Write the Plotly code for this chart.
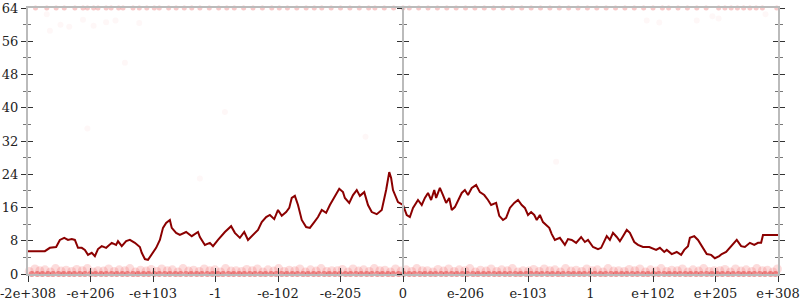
import plotly.graph_objects as go

# x positions are in tick-index units (0 .. 12), one unit per labelled tick
tick_labels = ["-2e+308", "-e+206", "-e+103", "-1", "-e-102", "-e-205", "0",
               "e-206", "e-103", "1", "e+102", "e+205", "e+308"]
tick_pos = list(range(13))

line_x = [0.00, 0.27, 0.35, 0.45, 0.51, 0.58, 0.64, 0.70, 0.75, 0.80, 0.86, 0.91, 0.96, 1.02, 1.07,
          1.12, 1.18, 1.25, 1.34, 1.41, 1.44, 1.50, 1.57, 1.63, 1.71, 1.79, 1.82, 1.87, 1.92, 1.98,
          2.05, 2.11, 2.16, 2.21, 2.27, 2.30, 2.37, 2.43, 2.53, 2.62, 2.72, 2.75, 2.83, 2.91, 2.96,
          3.04, 3.15, 3.25, 3.31, 3.39, 3.46, 3.52, 3.58, 3.68, 3.74, 3.81, 3.87, 3.94, 4.00, 4.06,
          4.13, 4.18, 4.22, 4.27, 4.32, 4.38, 4.45, 4.51, 4.58, 4.64, 4.70, 4.77, 4.83, 4.91, 4.98,
          5.04, 5.07, 5.14, 5.20, 5.26, 5.31, 5.38, 5.44, 5.50, 5.58, 5.66, 5.70, 5.73, 5.78, 5.81,
          5.84, 5.92, 6.00, 6.06, 6.11, 6.16, 6.24, 6.30, 6.35, 6.40, 6.45, 6.50, 6.53, 6.59, 6.64,
          6.69, 6.74, 6.78, 6.83, 6.88, 6.94, 6.99, 7.04, 7.10, 7.17, 7.23, 7.30, 7.36, 7.41, 7.49,
          7.54, 7.60, 7.65, 7.71, 7.78, 7.84, 7.90, 7.95, 8.00, 8.05, 8.10, 8.14, 8.19, 8.24, 8.29,
          8.34, 8.38, 8.43, 8.51, 8.59, 8.64, 8.70, 8.77, 8.85, 8.91, 8.96, 9.04, 9.12, 9.17, 9.26,
          9.31, 9.36, 9.42, 9.47, 9.52, 9.58, 9.63, 9.70, 9.76, 9.84, 9.94, 9.98, 10.05, 10.11, 10.18,
          10.22, 10.30, 10.38, 10.45, 10.50, 10.56, 10.59, 10.66, 10.72, 10.78, 10.86, 10.93, 10.99,
          11.06, 11.10, 11.17, 11.23, 11.30, 11.34, 11.41, 11.47, 11.55, 11.62, 11.68, 11.73, 11.76,
          12.00]
line_y = [5.5, 5.5, 6.3, 6.5, 8.2, 8.7, 8.2, 8.4, 8.2, 6.3, 6.3, 5.8, 4.6, 5.1, 4.3,
          6.0, 6.7, 6.3, 7.5, 7.0, 7.9, 6.7, 7.9, 8.2, 7.5, 6.5, 5.1, 3.6, 3.4, 4.6,
          6.3, 8.2, 11.1, 12.3, 13.0, 11.1, 9.9, 9.4, 10.1, 9.1, 10.1, 8.9, 7.0, 7.5, 6.7,
          8.2, 10.1, 11.5, 9.9, 8.7, 10.1, 8.2, 9.1, 10.6, 12.5, 13.7, 14.2, 13.2, 15.4, 14.0,
          14.9, 15.9, 18.3, 18.8, 16.6, 13.0, 11.3, 11.1, 12.5, 13.7, 15.4, 14.7, 16.6, 18.8, 20.5,
          19.7, 18.3, 17.1, 19.0, 20.2, 18.8, 19.7, 16.6, 14.9, 14.4, 15.4, 17.8, 20.2, 24.5, 23.1,
          20.2, 17.3, 16.6, 14.2, 13.7, 15.9, 17.8, 16.6, 18.3, 19.5, 17.8, 20.2, 18.3, 20.7, 19.0,
          17.1, 18.3, 15.4, 16.1, 17.8, 19.5, 20.2, 19.0, 20.7, 21.4, 19.7, 19.0, 17.8, 16.6, 17.1,
          14.0, 13.0, 13.5, 15.9, 17.1, 17.8, 16.6, 15.9, 14.2, 14.9, 14.2, 13.0, 14.2, 12.5, 11.8,
          11.1, 9.6, 8.2, 8.7, 7.0, 8.4, 8.2, 7.5, 8.9, 7.7, 8.2, 6.5, 6.0, 6.3, 9.1,
          8.2, 9.9, 8.9, 7.9, 9.1, 10.6, 9.9, 7.7, 7.0, 6.5, 6.5, 6.3, 5.8, 6.3, 5.3,
          5.8, 4.8, 5.3, 4.6, 5.8, 6.7, 8.7, 9.1, 8.2, 6.7, 4.8, 4.6, 3.8,
          4.3, 4.8, 5.3, 6.3, 7.5, 8.2, 6.7, 6.5, 7.5, 7.0, 7.5, 7.5, 9.4,
          9.4]

# faint sample points spread just above the bottom (y ~ 0..1.4)
low_x = [0.02, 0.11, 0.19, 0.27, 0.36, 0.44, 0.53, 0.61, 0.70, 0.78, 0.87, 0.95, 1.04, 1.12, 1.21,
         1.29, 1.38, 1.46, 1.55, 1.63, 1.72, 1.80, 1.89, 1.97, 2.06, 2.14, 2.23, 2.31, 2.40, 2.48,
         2.57, 2.65, 2.74, 2.82, 2.91, 2.99, 3.08, 3.16, 3.25, 3.33, 3.42, 3.50, 3.59, 3.67, 3.76,
         3.84, 3.93, 4.01, 4.10, 4.18, 4.27, 4.35, 4.44, 4.52, 4.61, 4.69, 4.78, 4.86, 4.95, 5.03,
         5.12, 5.20, 5.29, 5.37, 5.46, 5.54, 5.63, 5.71, 5.80, 5.88, 5.97, 6.05, 6.14, 6.22, 6.31,
         6.39, 6.48, 6.56, 6.65, 6.73, 6.82, 6.90, 6.99, 7.07, 7.16, 7.24, 7.33, 7.41, 7.50, 7.58,
         7.67, 7.75, 7.84, 7.92, 8.01, 8.09, 8.18, 8.26, 8.35, 8.43, 8.52, 8.60, 8.69, 8.77, 8.86,
         8.94, 9.03, 9.11, 9.20, 9.28, 9.37, 9.45, 9.54, 9.62, 9.71, 9.79, 9.88, 9.96, 10.05, 10.13,
         10.22, 10.30, 10.39, 10.47, 10.56, 10.64, 10.73, 10.81, 10.90, 10.98, 11.07, 11.15, 11.24,
         11.32, 11.41, 11.49, 11.58, 11.66, 11.75, 11.83, 11.92, 11.99]
low_y = [0.6, 1.2, 0.8, 1.0, 0.5, 1.3, 0.7, 0.9, 0.6, 1.1, 0.8, 1.3, 0.5, 0.8, 0.7,
         1.2, 0.6, 1.0, 0.8, 1.3, 0.5, 0.9, 0.7, 1.1, 0.6, 1.2, 0.8, 1.0, 0.5, 1.3,
         0.7, 0.9, 0.6, 1.2, 0.8, 1.0, 0.5, 1.3, 0.7, 0.8, 0.6, 1.1, 0.8, 1.2, 0.5,
         1.0, 0.7, 1.3, 0.6, 0.9, 0.8, 1.2, 0.5, 1.0, 0.7, 1.3, 0.6, 0.8, 0.8, 1.1,
         0.5, 1.2, 0.7, 1.0, 0.6, 1.3, 0.8, 0.9, 0.5, 1.2, 0.7, 1.0, 0.6, 1.3, 0.8,
         0.8, 0.5, 1.1, 0.7, 1.2, 0.6, 1.0, 0.8, 1.3, 0.5, 0.9, 0.7, 1.2, 0.6, 1.0,
         0.8, 1.3, 0.5, 0.8, 0.7, 1.1, 0.6, 1.2, 0.8, 1.0, 0.5, 1.3, 0.7, 0.9, 0.6,
         1.2, 0.8, 1.0, 0.5, 1.3, 0.7, 0.8, 0.6, 1.1, 0.8, 1.2, 0.5, 1.0, 0.7, 1.3,
         0.6, 0.9, 0.8, 1.2, 0.5, 1.0, 0.7, 1.3, 0.6, 0.8, 0.8, 1.1, 0.5,
         1.2, 0.7, 1.0, 0.6, 1.3, 0.8, 0.9, 0.5, 1.2]

# sample points sitting on zero
zero_x = [0.06, 0.15, 0.23, 0.32, 0.40, 0.49, 0.57, 0.66, 0.74, 0.83, 0.91, 1.00, 1.08, 1.17, 1.25,
          1.34, 1.42, 1.51, 1.59, 1.68, 1.76, 1.85, 1.93, 2.02, 2.10, 2.19, 2.27, 2.36, 2.44, 2.53,
          2.61, 2.70, 2.78, 2.87, 2.95, 3.04, 3.12, 3.21, 3.29, 3.38, 3.46, 3.55, 3.63, 3.72, 3.80,
          3.89, 3.97, 4.06, 4.14, 4.23, 4.31, 4.40, 4.48, 4.57, 4.65, 4.74, 4.82, 4.91, 4.99, 5.08,
          5.16, 5.25, 5.33, 5.42, 5.50, 5.59, 5.67, 5.76, 5.84, 5.93, 6.01, 6.10, 6.18, 6.27, 6.35,
          6.44, 6.52, 6.61, 6.69, 6.78, 6.86, 6.95, 7.03, 7.12, 7.20, 7.29, 7.37, 7.46, 7.54, 7.63,
          7.71, 7.80, 7.88, 7.97, 8.05, 8.14, 8.22, 8.31, 8.39, 8.48, 8.56, 8.65, 8.73, 8.82, 8.90,
          8.99, 9.07, 9.16, 9.24, 9.33, 9.41, 9.50, 9.58, 9.67, 9.75, 9.84, 9.92, 10.01, 10.09, 10.18,
          10.26, 10.35, 10.43, 10.52, 10.60, 10.69, 10.77, 10.86, 10.94, 11.03, 11.11, 11.20, 11.28,
          11.37, 11.45, 11.54, 11.62, 11.71, 11.79, 11.88, 11.96]
zero_y = [0.0] * len(zero_x)

# sample points sitting on the top edge (y = 64)
top_x = [0.12, 0.30, 0.45, 0.58, 0.75, 0.88, 0.95, 1.05, 1.12, 1.25, 1.33, 1.45, 1.52, 1.68, 1.78,
         1.90, 2.02, 2.10, 2.25, 2.37, 2.50, 2.62, 2.75, 2.90, 3.05, 3.18, 3.30, 3.45, 3.60, 3.75,
         3.90, 4.02, 4.15, 4.30, 4.45, 4.58, 4.70, 4.85, 5.00, 5.15, 5.30, 5.45, 5.55, 5.70, 5.85,
         6.00, 6.10, 6.25, 6.40, 6.55, 6.70, 6.85, 7.00, 7.15, 7.30, 7.45, 7.60, 7.75, 7.90, 8.05,
         8.20, 8.35, 8.50, 8.65, 8.80, 8.95, 9.10, 9.25, 9.40, 9.55, 9.70, 9.85, 10.00, 10.15,
         10.25, 10.40, 10.55, 10.70, 10.85, 11.05, 11.15, 11.25, 11.35, 11.45, 11.55, 11.65,
         11.75, 11.98]
top_y = [64.0] * len(top_x)

# very faint stray points
stray_x = [0.30, 0.35, 0.52, 0.66, 0.88, 1.05, 1.25, 1.40, 1.55, 1.78, 2.75, 0.95, 8.45, 3.15,
           5.40, 9.90, 10.10, 10.95, 11.80, 11.05, 10.70]
stray_y = [62.5, 58.5, 60.0, 59.5, 61.2, 59.7, 60.6, 61.0, 50.8, 60.4, 23.0, 35.0, 27.0, 39.0,
           33.0, 61.0, 60.5, 62.0, 62.5, 61.5, 61.0]

y_major = list(range(0, 65, 8))
y_minor = list(range(4, 64, 8))

font = dict(family="'DejaVu Serif', 'Liberation Serif', serif", size=13, color="#222222")

fig = go.Figure()
fig.add_trace(go.Scatter(x=low_x, y=low_y, mode="markers",
                         marker=dict(size=9, color="rgba(240,50,50,0.17)", line=dict(width=0)),
                         hoverinfo="skip", showlegend=False, cliponaxis=False))
fig.add_trace(go.Scatter(x=zero_x, y=zero_y, mode="markers",
                         marker=dict(size=6, color="rgba(220,30,30,0.45)", line=dict(width=0)),
                         hoverinfo="skip", showlegend=False, cliponaxis=False))
fig.add_trace(go.Scatter(x=top_x, y=top_y, mode="markers",
                         marker=dict(size=5, color="rgba(225,40,40,0.25)", line=dict(width=0)),
                         hoverinfo="skip", showlegend=False, cliponaxis=False))
fig.add_trace(go.Scatter(x=stray_x, y=stray_y, mode="markers",
                         marker=dict(size=6, color="rgba(235,40,40,0.04)", line=dict(width=0)),
                         hoverinfo="skip", showlegend=False, cliponaxis=False))
fig.add_trace(go.Scatter(x=line_x, y=line_y, mode="lines",
                         line=dict(color="#8b0000", width=2),
                         showlegend=False))

# dummy traces so every overlay axis is drawn
for ya in ["y2", "y3", "y4", "y5", "y6"]:
    fig.add_trace(go.Scatter(x=[None], y=[None], xaxis="x", yaxis=ya,
                             showlegend=False, hoverinfo="skip"))
fig.add_trace(go.Scatter(x=[None], y=[None], xaxis="x2", yaxis="y",
                         showlegend=False, hoverinfo="skip"))

axis_line = "#bbbbbb"
tick_col = "#333333"

common_y = dict(range=[0, 64], tickvals=y_major, showgrid=False, zeroline=False,
                ticklen=5, tickwidth=1.3, tickcolor=tick_col, fixedrange=True,
                automargin=False)

def minor(kind):
    return dict(tickvals=y_minor, ticks=kind, ticklen=3, tickcolor="#777777", tickwidth=1)

fig.update_layout(
    width=800, height=300,
    margin=dict(l=28, r=22, t=8, b=26),
    paper_bgcolor="white", plot_bgcolor="white",
    font=font,
    xaxis=dict(range=[0, 12], tickvals=tick_pos, ticktext=tick_labels,
               ticks="outside", ticklen=6, tickwidth=1.3, tickcolor=tick_col,
               showline=True, linecolor=axis_line, linewidth=2, mirror=True,
               showgrid=False, zeroline=False, tickfont=font, fixedrange=True,
               automargin=False, ticklabeloverflow="allow"),
    xaxis2=dict(range=[0, 12], tickvals=tick_pos, overlaying="x", anchor="y",
                side="bottom", ticks="inside", ticklen=6, tickwidth=1.3,
                tickcolor=tick_col, showticklabels=False, showline=False,
                showgrid=False, zeroline=False, fixedrange=True, automargin=False),
    yaxis=dict(**common_y, ticks="outside", minor=minor("outside"),
               showline=True, linecolor=axis_line, linewidth=2, tickfont=font,
               ticklabeloverflow="allow"),
    yaxis2=dict(**common_y, overlaying="y", anchor="x", side="left", ticks="inside",
                minor=minor("inside"), showticklabels=False, showline=False),
    yaxis3=dict(**common_y, overlaying="y", anchor="free", position=0.5, side="left",
                ticks="outside", minor=minor("outside"), showticklabels=False,
                showline=True, linecolor=axis_line, linewidth=2),
    yaxis4=dict(**common_y, overlaying="y", anchor="free", position=0.5, side="left",
                ticks="inside", minor=minor("inside"), showticklabels=False,
                showline=False),
    yaxis5=dict(**common_y, overlaying="y", anchor="x", side="right",
                ticks="outside", minor=minor("outside"), showticklabels=False,
                showline=True, linecolor=axis_line, linewidth=2),
    yaxis6=dict(**common_y, overlaying="y", anchor="x", side="right",
                ticks="inside", minor=minor("inside"), showticklabels=False,
                showline=False),
)

fig.write_html("out.html")
